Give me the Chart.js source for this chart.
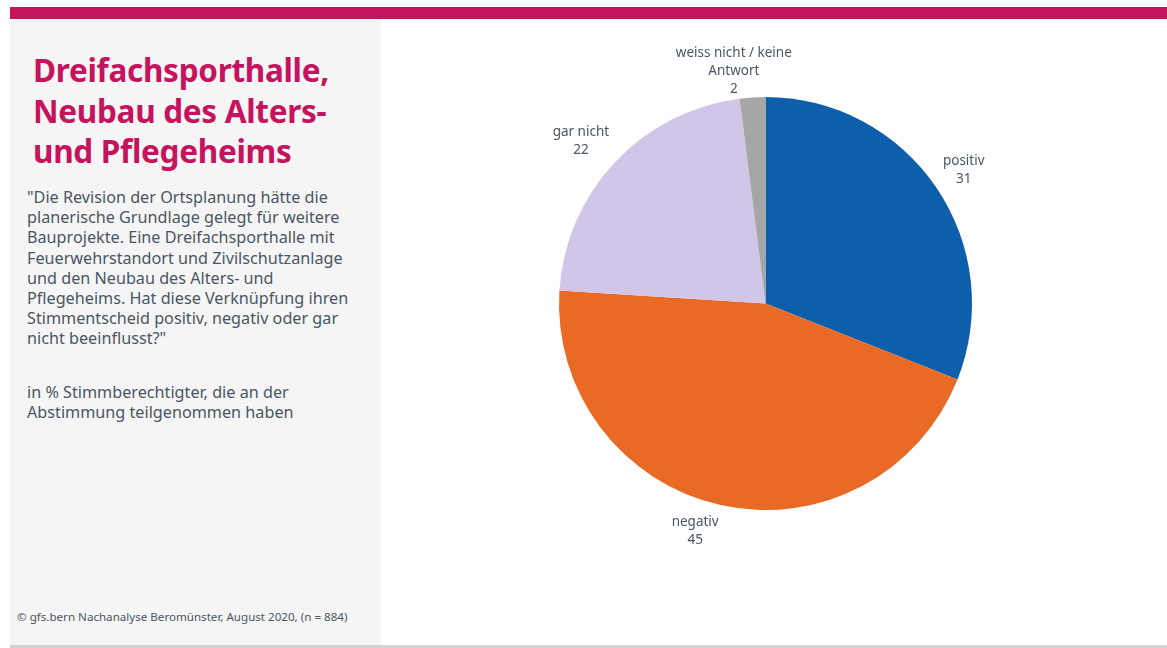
<!DOCTYPE html>
<html lang="de">
<head>
<meta charset="utf-8">
<script src="https://cdn.jsdelivr.net/npm/chart.js@4/dist/chart.umd.min.js"></script>
<style>
  body { margin: 0; width: 1167px; height: 648px; background: #fff; position: relative; overflow: hidden; font-family: "Noto Sans", "Open Sans", sans-serif; }
  .topbar { position: absolute; left: 10px; top: 7px; width: 1157px; height: 12px; background: #c5135e; }
  .panel { position: absolute; left: 10px; top: 19px; width: 371px; height: 626px; background: #f5f5f5; }
  .bottomline { position: absolute; left: 10px; top: 645px; width: 1157px; height: 3px; background: #d2d2d2; }
  h1 { position: absolute; left: 33px; top: 50px; margin: 0; font-size: 31.5px; line-height: 40.5px; font-weight: 700; color: #c5135e; letter-spacing: -0.3px; white-space: nowrap; }
  .question, .base { position: absolute; left: 27px; margin: 0; font-size: 16.2px; line-height: 20.2px; color: #4a5663; white-space: nowrap; }
  .question { top: 187px; }
  .base { top: 382px; }
  .source { position: absolute; left: 17px; top: 609px; font-size: 11.6px; line-height: 16px; color: #4a5663; white-space: nowrap; }
  #chart { position: absolute; left: 385px; top: 19px; }
</style>
</head>
<body>
<div class="topbar"></div>
<div class="panel"></div>
<div class="bottomline"></div>
<h1>Dreifachsporthalle,<br>Neubau des Alters-<br>und Pflegeheims</h1>
<p class="question">"Die Revision der Ortsplanung hätte die<br>planerische Grundlage gelegt für weitere<br>Bauprojekte. Eine Dreifachsporthalle mit<br>Feuerwehrstandort und Zivilschutzanlage<br>und den Neubau des Alters- und<br>Pflegeheims. Hat diese Verknüpfung ihren<br>Stimmentscheid positiv, negativ oder gar<br>nicht beeinflusst?"</p>
<p class="base">in % Stimmberechtigter, die an der<br>Abstimmung teilgenommen haben</p>
<div class="source">© gfs.bern Nachanalyse Beromünster, August 2020, (n = 884)</div>
<canvas id="chart" width="761" height="569"></canvas>
<script>
const categories = ['positiv', 'negativ', 'gar nicht', ['weiss nicht / keine', 'Antwort']];
const shares = [31, 45, 22, 2];
const sliceColors = ['#0d5fac', '#e96a24', '#d1c6e8', '#a6a6a6'];

const clamp = (v) => Math.max(-1, Math.min(1, v));

// category + value outside each slice: the label box hangs off a point just
// beyond the rim by its nearest corner (centred when the slice points up/down)
const outsideLabels = {
  id: 'outsideLabels',
  afterDatasetsDraw(chart) {
    const {ctx} = chart;
    const meta = chart.getDatasetMeta(0);
    ctx.save();
    ctx.font = '13.5px "Noto Sans", "Open Sans", sans-serif';
    ctx.fillStyle = '#4a5663';
    ctx.textAlign = 'center';
    ctx.textBaseline = 'middle';
    const lineH = 18;
    const gap = 8;
    meta.data.forEach((arc, i) => {
      const lines = [].concat(categories[i], String(shares[i]));
      const w = Math.max(...lines.map(l => ctx.measureText(l).width));
      const h = lines.length * lineH;
      const mid = (arc.startAngle + arc.endAngle) / 2;
      const cos = Math.cos(mid), sin = Math.sin(mid);
      const ax = arc.x + cos * (arc.outerRadius + gap);
      const ay = arc.y + sin * (arc.outerRadius + gap);
      const cx = ax + clamp(cos / 0.2) * w / 2;
      const cy = ay + clamp(sin / 0.8) * Math.min(h, 2 * lineH) / 2;
      lines.forEach((l, j) => {
        ctx.fillText(l, cx, cy - h / 2 + lineH / 2 + j * lineH);
      });
    });
    ctx.restore();
  }
};

new Chart(document.getElementById('chart'), {
  type: 'pie',
  data: {
    labels: categories,
    datasets: [{
      data: shares,
      backgroundColor: sliceColors,
      borderWidth: 0,
      hoverOffset: 0
    }]
  },
  options: {
    responsive: false,
    animation: false,
    layout: { padding: 78 },
    plugins: {
      legend: { display: false },
      tooltip: { enabled: false }
    }
  },
  plugins: [outsideLabels]
});
</script>
</body>
</html>
